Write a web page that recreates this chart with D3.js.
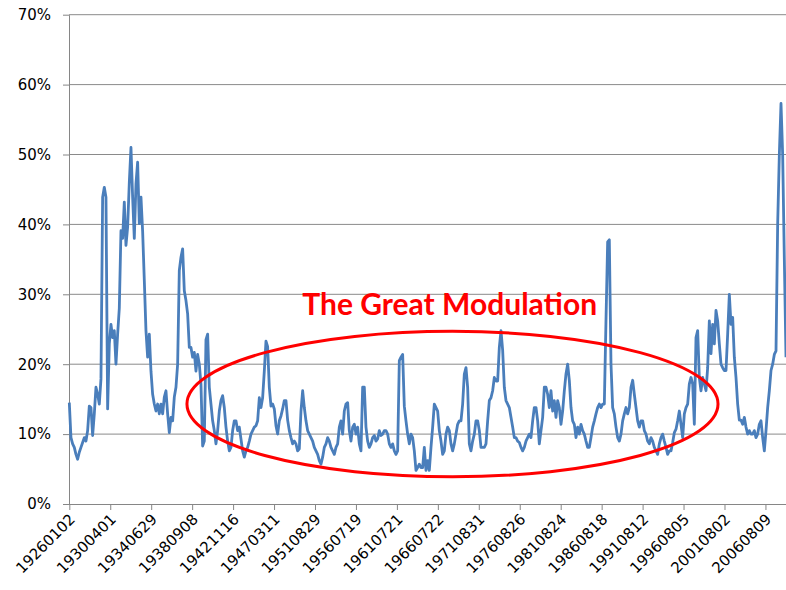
<!DOCTYPE html>
<html>
<head>
<meta charset="utf-8">
<script src="https://cdn.jsdelivr.net/npm/d3@7/dist/d3.min.js"></script>
<style>
  body { margin: 0; background: #fff; }
  .axis text { font-family: "DejaVu Sans", sans-serif; }
</style>
</head>
<body>
<div id="chart"></div>
<script>
// axis labels (one every labelEvery trading days)
var dateLabels = ["19260102", "19300401", "19340629", "19380908", "19421116", "19470311",
    "19510829", "19560719", "19610721", "19660722", "19710831", "19760826",
    "19810824", "19860818", "19910812", "19960805", "20010802", "20060809"];
var labelEvery = 1253;
var sampleEvery = 51;
var yTicks = [0, 10, 20, 30, 40, 50, 60, 70];

// rolling volatility (%), one reading every sampleEvery trading days
var vol = [
    14.5, 9.5, 8.6, 8.1, 7.1, 6.4, 7.4, 8.1, 8.8, 9.5,
    9.0, 10.5, 14.0, 13.8, 9.8, 12.9, 16.7, 15.7, 14.3, 17.9,
    43.9, 45.3, 43.9, 13.6, 22.9, 25.7, 23.8, 24.8, 20.0, 24.3,
    28.0, 39.1, 38.0, 43.2, 37.0, 39.6, 46.0, 51.0, 43.9, 38.0,
    45.8, 48.9, 40.1, 43.9, 39.0, 32.0, 24.8, 21.0, 24.3, 19.0,
    15.7, 14.3, 13.3, 14.3, 12.9, 14.3, 12.9, 15.3, 16.2, 12.9,
    10.2, 12.4, 11.9, 15.3, 16.7, 20.0, 33.4, 35.3, 36.5, 30.5,
    29.1, 27.2, 22.4,
    22.4, 21.0, 21.7, 19.0, 21.4, 20.0, 17.1, 8.3, 9.0, 23.5,
    24.3, 16.7, 14.3, 11.9, 10.5, 8.6, 10.5, 13.3, 14.8, 15.5,
    13.8, 11.0, 9.0, 7.6, 8.1, 10.5, 11.9, 11.9, 10.5, 11.0,
    9.3, 7.6, 6.7, 7.6, 8.1, 9.0, 10.0, 10.5, 11.0, 11.2,
    11.9, 15.2, 13.8, 15.2, 19.0, 23.3, 22.5, 16.7, 14.0, 14.3,
    13.6, 11.2, 10.0, 11.9, 12.6, 13.6, 14.8, 14.8, 12.0, 10.5,
    9.5, 8.6, 9.0, 8.6, 7.6, 7.9, 13.3, 16.2, 13.8, 11.9,
    10.5, 10.0,
    9.5, 9.0, 8.1, 7.6, 7.1, 6.2, 5.7, 6.7, 8.1, 8.6,
    9.5, 9.0, 8.1, 7.6, 7.1, 8.1, 8.6, 11.0, 11.9, 10.0,
    13.3, 14.3, 14.5, 10.5, 9.0, 11.0, 11.4, 10.0, 11.0, 8.6,
    7.6, 16.7, 16.7, 11.0, 9.0, 8.1, 8.6, 9.5, 9.8, 9.0,
    9.3, 10.5, 9.8, 10.0, 10.5, 10.5, 10.0, 8.6, 8.1, 8.6,
    7.6, 7.1, 7.6, 20.5, 21.0, 21.4, 14.0, 11.9, 10.0, 8.6,
    10.0, 9.5, 7.6, 4.8, 5.2, 5.7, 5.2, 5.2, 8.1, 4.8,
    6.2, 4.8,
    8.1, 11.0, 14.3, 13.8, 13.3, 10.5, 9.0, 7.1, 7.6, 10.0,
    11.0, 10.5, 8.6, 7.6, 8.6, 10.0, 11.4, 11.9, 11.9, 14.3,
    18.6, 19.5, 16.7, 8.6, 7.6, 9.0, 10.0, 11.9, 11.9, 10.5,
    8.1, 8.1, 8.1, 8.6, 11.9, 14.8, 15.2, 16.2, 18.1, 17.6,
    17.6, 22.4, 24.8, 22.0, 16.7, 14.8, 14.3, 13.8, 12.4, 11.0,
    9.5, 9.5, 9.0, 8.8, 8.1, 7.6, 8.1, 9.0, 9.5, 10.0,
    9.5, 11.9, 13.8, 13.8, 11.9, 8.6, 10.5, 12.4, 16.7, 16.7,
    15.7, 13.8,
    16.2, 13.3, 14.8, 12.4, 14.8, 13.8, 11.4, 13.3, 16.2, 18.6,
    20.0, 17.7, 13.8, 11.9, 11.4, 9.5, 11.0, 10.0, 11.4, 10.5,
    10.0, 9.0, 8.1, 8.1, 9.5, 11.0, 11.9, 12.9, 13.8, 14.3,
    13.8, 14.3, 14.3, 26.3, 37.5, 37.8, 20.0, 13.8, 12.9, 11.0,
    9.5, 9.0, 10.0, 11.9, 12.9, 13.8, 12.9, 13.8, 16.7, 17.7,
    15.7, 13.8, 11.9, 11.0, 11.9, 11.9, 10.5, 10.0, 9.0, 8.6,
    9.5, 9.0, 8.1, 7.6, 7.1, 8.6, 9.5, 10.0, 9.0, 8.1,
    7.1, 7.6,
    7.6, 8.8, 10.2, 10.7, 11.9, 13.3, 11.4, 9.5, 12.9, 13.8,
    14.3, 17.2, 18.1, 17.2, 11.4, 23.8, 24.8, 18.1, 16.2, 18.1,
    17.2, 16.2, 19.5, 26.2, 21.5, 25.7, 22.9, 27.7, 26.2, 22.9,
    20.0, 19.5, 19.1, 19.1, 24.3, 30.0, 25.7, 26.7, 21.0, 18.1,
    14.3, 12.0, 12.0, 11.4, 12.4, 11.0, 10.0, 10.5, 10.0, 10.0,
    10.5, 9.5, 10.0, 11.4, 11.9, 9.5, 7.6, 10.5, 13.8, 16.2,
    19.1, 20.0, 21.4, 21.9, 40.0, 50.0, 57.3, 50.0, 35.0, 21.0
];

// annotation: ring around the quiet period and its caption
var noteText = "The Great Modulation";
var ringDays = [3600, 19850];
var ringVol = [3.9, 24.7];
var noteDay = 11640, noteVol = 27.0;

var width = 786, height = 590;
var margin = { top: 14.7, right: 0, bottom: 86, left: 69 };

var svg = d3.select("#chart").append("svg")
    .attr("width", width)
    .attr("height", height);

var lastDay = (vol.length - 1) * sampleEvery;
var xScale = d3.scaleLinear()
    .domain([0, lastDay])
    .range([margin.left + 0.3, width - margin.right]);
var yScale = d3.scaleLinear()
    .domain([0, 70])
    .range([height - margin.bottom, margin.top]);

// gridlines
svg.append("g")
    .selectAll("line")
    .data(yTicks.slice(1))
    .enter()
    .append("line")
    .attr("x1", margin.left)
    .attr("x2", width)
    .attr("y1", function(d) { return yScale(d); })
    .attr("y2", function(d) { return yScale(d); })
    .attr("stroke", "#8a8a8a")
    .attr("stroke-width", 1);

var yAxis = d3.axisLeft(yScale)
    .tickValues(yTicks)
    .tickSize(6)
    .tickSizeOuter(0)
    .tickPadding(12)
    .tickFormat(function(d) { return d + "%"; });

var gy = svg.append("g")
    .attr("class", "axis")
    .attr("transform", "translate(" + margin.left + ",0)")
    .call(yAxis);
gy.selectAll("path, line").attr("stroke", "#868686");
gy.selectAll("text").attr("font-size", 15).attr("fill", "#000");

var tickDays = dateLabels.map(function(d, i) { return i * labelEvery; });
var xAxis = d3.axisBottom(xScale)
    .tickValues(tickDays)
    .tickSize(6)
    .tickSizeOuter(0)
    .tickFormat(function(d, i) { return dateLabels[i]; });

var gx = svg.append("g")
    .attr("class", "axis")
    .attr("transform", "translate(0," + yScale(0) + ")")
    .call(xAxis);
gx.select(".domain").attr("d", "M" + margin.left + ",0.5H" + width);
gx.selectAll("path, line").attr("stroke", "#868686");
gx.selectAll("text")
    .attr("font-size", 15)
    .attr("fill", "#000")
    .attr("x", 0)
    .attr("y", 0)
    .attr("dy", "0.36em")
    .attr("text-anchor", "end")
    .attr("transform", "translate(2.5,12.5) rotate(-45)");

// the series
var line = d3.line()
    .x(function(d, i) { return xScale(i * sampleEvery); })
    .y(function(d) { return yScale(d); });

svg.append("path")
    .attr("d", line(vol))
    .attr("fill", "none")
    .attr("stroke", "#4a7ebb")
    .attr("stroke-width", 2.8)
    .attr("stroke-linejoin", "round");

// annotation
svg.append("ellipse")
    .attr("cx", (xScale(ringDays[0]) + xScale(ringDays[1])) / 2)
    .attr("cy", (yScale(ringVol[0]) + yScale(ringVol[1])) / 2)
    .attr("rx", (xScale(ringDays[1]) - xScale(ringDays[0])) / 2)
    .attr("ry", (yScale(ringVol[0]) - yScale(ringVol[1])) / 2)
    .attr("fill", "none")
    .attr("stroke", "#ff0000")
    .attr("stroke-width", 3);

svg.append("text")
    .attr("x", xScale(noteDay))
    .attr("y", yScale(noteVol))
    .attr("text-anchor", "middle")
    .style("font-family", "Lato, 'Open Sans', sans-serif")
    .style("font-weight", 700)
    .style("font-size", "30px")
    .attr("fill", "#ff0000")
    .text(noteText);
</script>
</body>
</html>
